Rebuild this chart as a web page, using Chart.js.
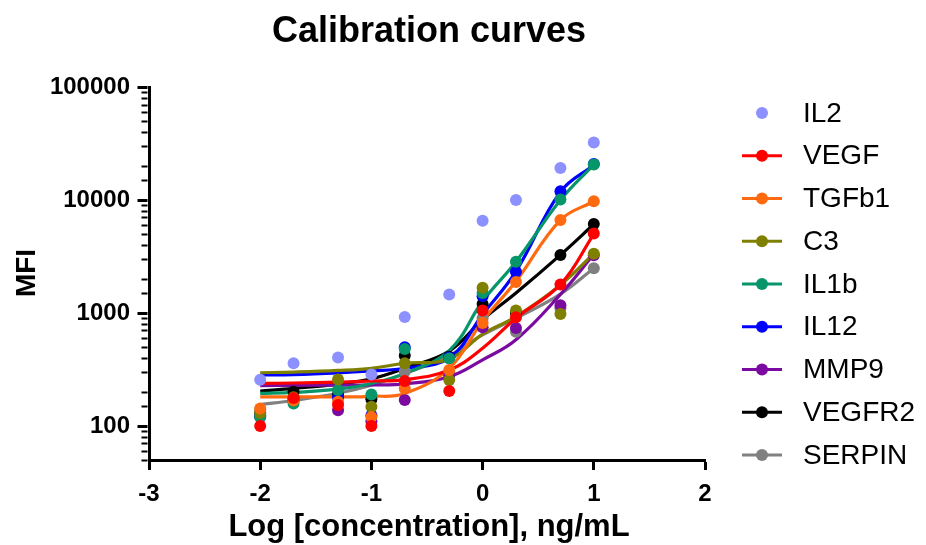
<!DOCTYPE html>
<html>
<head>
<meta charset="utf-8">
<script src="https://cdn.jsdelivr.net/npm/chart.js@4"></script>
<style>
html,body{margin:0;padding:0;background:#fff;}
#wrap{width:926px;height:545px;}
</style>
</head>
<body>
<div id="wrap"><canvas id="c" width="926" height="545"></canvas></div>
<script>
// ---- data ----
const logConc = [-2, -1.7, -1.3, -1, -0.7, -0.3, 0, 0.3, 0.7, 1];
const seriesNames = ["IL2","VEGF","TGFb1","C3","IL1b","IL12","MMP9","VEGFR2","SERPIN"];
const seriesColors = ["#8c91ff","#ff0000","#ff6a10","#808000","#06966a","#0000ff","#7a0aa0","#000000","#808080"];

// measured points (MFI)
const ptIL2    = [257, 359, 403, 286, 921, 1459, 6555, 10000, 19150, 32200];
const ptVEGF   = [100, 177, 153, 100, 250, 204, 1050, 916, 1790, 5055];
const ptTGFb1  = [143, 168, 164, 120, 215, 313, 815, 1877, 6650, 9750];
const ptC3     = [130, 180, 258, 148, 359, 255, 1670, 1050, 980, 3350];
const ptIL1b   = [120, 158, 208, 190, 480, 395, 1500, 2840, 10090, 20650];
const ptIL12   = [124, 170, 180, 124, 498, 403, 1410, 2320, 11970, 20800];
const ptMMP9   = [120, 170, 138, 110, 170, 280, 746, 738, 1170, 3250];
const ptVEGFR2 = [130, 201, 188, 172, 420, 410, 1200, 1000, 3265, 6120];
const ptSERPIN = [140, 180, 200, 180, 303, 300, 900, 682, 1100, 2485];

// fitted curves, read at the same concentrations
const cvVEGF   = [238, 240, 244, 250, 257, 313, 488, 900, 1790, 5000];
const cvTGFb1  = [181, 181, 181, 183, 194, 324, 850, 1910, 6650, 9750];
const cvC3     = [296, 300, 310, 324, 359, 390, 650, 930, 1770, 3350];
const cvIL1b   = [194, 198, 212, 238, 292, 465, 1270, 2840, 10000, 20600];
const cvIL12   = [283, 285, 295, 307, 324, 400, 970, 2340, 11800, 20400];
const cvMMP9   = [228, 229, 230, 231, 236, 273, 385, 580, 1460, 3310];
const cvVEGFR2 = [204, 215, 235, 262, 324, 460, 873, 1500, 3265, 6100];
const cvSERPIN = [155, 168, 195, 230, 290, 420, 640, 900, 1470, 2485];

const xTicks = [-3, -2, -1, 0, 1, 2];
const yTickLabels = [100, 1000, 10000, 100000];

const points = [ptIL2, ptVEGF, ptTGFb1, ptC3, ptIL1b, ptIL12, ptMMP9, ptVEGFR2, ptSERPIN];
const curves = [null, cvVEGF, cvTGFb1, cvC3, cvIL1b, cvIL12, cvMMP9, cvVEGFR2, cvSERPIN];

const FONT = '"Liberation Sans", Arial, Helvetica, sans-serif';

function toXY(arr){ return logConc.map((x,i)=>({x:x, y:arr[i]})); }

const datasets = [];
points.forEach((arr,i)=>{
  datasets.push({
    label: seriesNames[i], data: toXY(arr), showLine:false,
    pointRadius:6, pointHoverRadius:6, pointBorderWidth:0,
    backgroundColor: seriesColors[i], borderColor: seriesColors[i]
  });
});
curves.forEach((arr,i)=>{
  if(!arr) return;
  datasets.push({
    label: seriesNames[i]+' fit', data: toXY(arr), showLine:true,
    pointRadius:0, borderWidth:3.2, borderColor: seriesColors[i],
    backgroundColor: seriesColors[i], tension:0.4
  });
});

const decor = {
  id:'decor',
  afterDraw(chart){
    const ctx = chart.ctx, ca = chart.chartArea, ys = chart.scales.y;
    ctx.save();
    // y-axis ticks (major long, minor short)
    const axX = ca.left - 1.5;
    ctx.strokeStyle = '#000';
    ys.ticks.forEach(t=>{
      const v = t.value;
      if (v < ys.min - 1e-9 || v > ys.max + 1e-9) return;
      const lg = Math.log10(v);
      const major = Math.abs(lg - Math.round(lg)) < 1e-9;
      const py = Math.round(ys.getPixelForValue(v)) + 0.5;
      ctx.lineWidth = major ? 3 : 2;
      ctx.beginPath();
      ctx.moveTo(axX - (major ? 10 : 6), py);
      ctx.lineTo(axX, py);
      ctx.stroke();
    });
    // title
    ctx.fillStyle = '#000';
    ctx.textAlign = 'center';
    ctx.textBaseline = 'alphabetic';
    ctx.font = 'bold 36px ' + FONT;
    ctx.fillText('Calibration curves', (ca.left + ca.right)/2 + 2, 42);
    // x title
    ctx.font = 'bold 31px ' + FONT;
    ctx.fillText('Log [concentration], ng/mL', (ca.left + ca.right)/2 + 2, 536);
    // y title
    ctx.save();
    ctx.translate(35, 273);
    ctx.rotate(-Math.PI/2);
    ctx.font = 'bold 28px ' + FONT;
    ctx.fillText('MFI', 0, 0);
    ctx.restore();
    // legend
    ctx.textAlign = 'left';
    ctx.textBaseline = 'middle';
    ctx.font = '28px ' + FONT;
    seriesNames.forEach((name,i)=>{
      const y = 113 + i*42.75;
      const col = seriesColors[i];
      if (i > 0) {
        ctx.strokeStyle = col; ctx.lineWidth = 3.2;
        ctx.beginPath(); ctx.moveTo(742, y); ctx.lineTo(782, y); ctx.stroke();
      }
      ctx.fillStyle = col;
      ctx.beginPath(); ctx.arc(762, y, 6, 0, Math.PI*2); ctx.fill();
      ctx.fillStyle = '#000';
      ctx.fillText(name, 803, y + 1);
    });
    ctx.restore();
  }
};

new Chart(document.getElementById('c'), {
  type:'scatter',
  data:{ datasets },
  options:{
    responsive:false, animation:false, devicePixelRatio:1,
    layout:{ padding:{ top:87, right:221, left:0, bottom:0 } },
    plugins:{ legend:{display:false}, title:{display:false}, tooltip:{enabled:false} },
    scales:{
      x:{
        type:'linear', min:-3, max:2,
        afterBuildTicks(s){ s.ticks = xTicks.map(v=>({value:v})); },
        afterFit(s){ s.height = 85; },
        grid:{ display:true, drawOnChartArea:false, drawTicks:true, tickLength:10, tickWidth:3, tickColor:'#000' },
        border:{ display:true, color:'#000', width:3 },
        ticks:{ color:'#000', padding:10, font:{ family:FONT, size:24, weight:'bold' }, maxRotation:0 }
      },
      y:{
        type:'logarithmic', min:50, max:100000,
        afterFit(s){ s.width = 149; },
        grid:{ display:true, drawOnChartArea:false, drawTicks:true, tickLength:10, tickColor:'rgba(0,0,0,0)' },
        border:{ display:true, color:'#000', width:3 },
        ticks:{ color:'#000', padding:9, autoSkip:false, font:{ family:FONT, size:24, weight:'bold' },
          callback(v){ return yTickLabels.includes(v) ? String(v) : ''; } }
      }
    }
  },
  plugins:[decor]
});
</script>
</body>
</html>
